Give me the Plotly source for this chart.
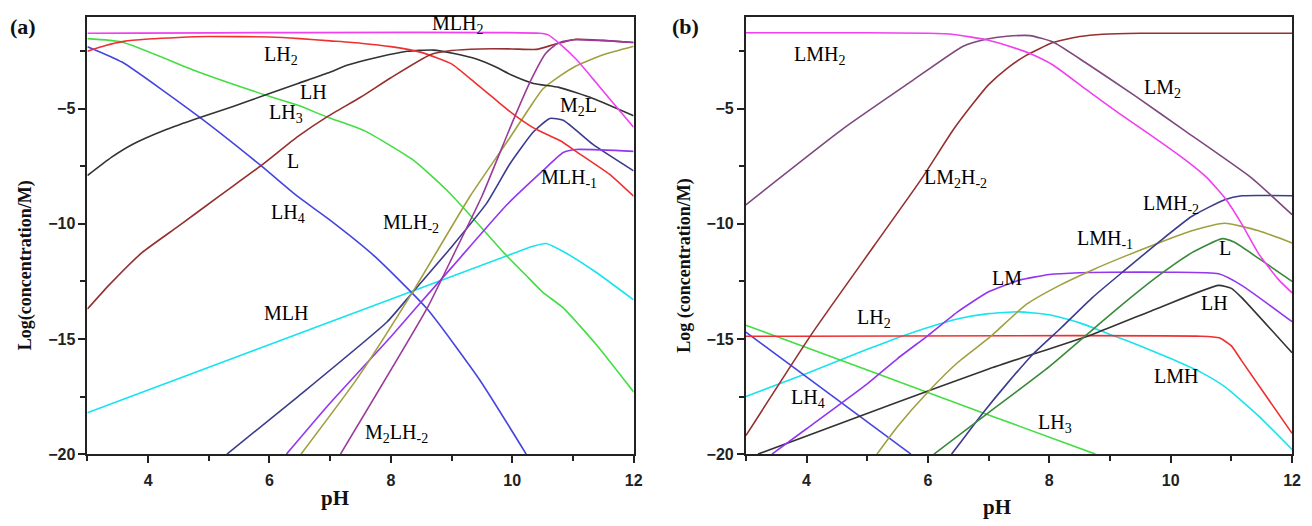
import plotly.graph_objects as go

# ---------------- Panel (a) data ----------------
a_MLH2_x = [3, 10.45, 10.6, 10.77, 11.05, 11.33, 11.6, 12]
a_MLH2_y = [-1.72, -1.72, -1.8, -2.15, -2.84, -3.7, -4.55, -5.8]

a_LH2_x = [3, 3.3, 3.6, 4, 4.5, 5, 6, 6.5, 7, 7.5, 8, 8.5, 9, 9.4, 9.7, 10, 10.35, 10.6, 10.8, 11.05, 11.6, 12]
a_LH2_y = [-2.5, -2.25, -2.07, -1.97, -1.9, -1.86, -1.88, -1.95, -2.05, -2.15, -2.3, -2.55, -3.05, -3.9, -4.55, -5.2, -5.83, -6.15, -6.4, -6.85, -7.84, -8.8]

a_LH3_x = [3, 3.57, 4.83, 5.93, 6.47, 6.96, 7.57, 8.38, 8.92, 9.47, 9.86, 10.23, 10.5, 10.84, 11.38, 12]
a_LH3_y = [-1.95, -2.1, -3.4, -4.4, -4.85, -5.37, -5.96, -7.25, -8.53, -10.1, -11.25, -12.24, -12.96, -13.65, -15.23, -17.3]

a_LH4_x = [3, 3.57, 4.83, 5.86, 6.47, 6.96, 7.73, 8.6, 9.47, 10.23]
a_LH4_y = [-2.3, -2.97, -5.33, -7.47, -8.82, -9.76, -11.4, -13.7, -16.8, -20]

a_LH_x = [3, 3.4, 3.74, 4.3, 4.83, 5.4, 5.93, 6.47, 6.96, 7.29, 7.8, 8.27, 8.7, 9.04, 9.41, 9.74, 9.96, 10.35, 10.77, 11.33, 12]
a_LH_y = [-7.9, -7.1, -6.55, -5.9, -5.4, -4.9, -4.4, -3.9, -3.45, -3.1, -2.75, -2.5, -2.45, -2.6, -2.84, -3.2, -3.5, -3.9, -4.07, -4.55, -5.3]

a_L_x = [3, 3.36, 3.9, 4.5, 5.2, 5.86, 6.47, 6.96, 7.5, 8.0, 8.65, 9.0, 9.47, 10.0, 10.4, 10.7, 11.05, 11.5, 12]
a_L_y = [-13.7, -12.65, -11.25, -10.1, -8.74, -7.47, -6.2, -5.33, -4.5, -3.65, -2.65, -2.47, -2.4, -2.4, -2.42, -2.2, -1.98, -2.03, -2.12]

a_MLH_x = [3, 10.0, 10.3, 10.56, 10.84, 11.38, 12]
a_MLH_y = [-18.2, -11.3, -11.0, -10.85, -11.2, -12.1, -13.3]

a_M2L_x = [5.3, 6.47, 7.94, 8.35, 9.0, 9.58, 9.96, 10.35, 10.62, 10.84, 11.33, 12]
a_M2L_y = [-20, -17.5, -14.25, -13.0, -11.0, -9.1, -7.4, -6.0, -5.42, -5.5, -6.55, -7.7]

a_MLHm1_x = [6.28, 6.96, 8.0, 8.43, 9.0, 9.9, 10.5, 10.84, 11.05, 12]
a_MLHm1_y = [-20, -17.9, -14.9, -13.6, -11.9, -9.2, -7.7, -6.9, -6.77, -6.85]

a_MLHm2_x = [6.52, 7.45, 8.35, 9.3, 9.96, 10.3, 10.5, 10.8, 11.05, 11.5, 12]
a_MLHm2_y = [-20, -16.7, -13.0, -8.82, -6.26, -4.9, -4.15, -3.55, -3.14, -2.65, -2.28]

a_M2LHm2_x = [7.17, 8.6, 9.04, 9.5, 10.0, 10.3, 10.55, 10.75, 11.0, 12]
a_M2LHm2_y = [-20, -13.65, -11.3, -8.8, -5.6, -3.8, -2.6, -2.15, -2.0, -2.12]

# ---------------- Panel (b) data ----------------
b_LMH2_x = [3, 5, 6, 6.42, 6.96, 7.3, 7.68, 8.06, 8.6, 9.15, 9.7, 10.23, 10.6, 10.9, 11.17, 11.45, 11.77, 12]
b_LMH2_y = [-1.7, -1.7, -1.72, -1.77, -2.0, -2.25, -2.6, -3.1, -4.15, -5.2, -6.2, -7.2, -8.0, -8.9, -10.0, -11.3, -12.4, -13.0]

b_LM2_x = [3, 4.62, 5.72, 6.58, 6.96, 7.3, 7.68, 8.06, 8.6, 9.42, 10.23, 11.33, 12]
b_LM2_y = [-9.17, -5.83, -3.82, -2.28, -1.98, -1.85, -1.82, -2.1, -3.0, -4.45, -5.95, -8.0, -9.6]

b_LM2Hm2_x = [3, 4.08, 5.11, 5.88, 6.42, 6.75, 7.0, 7.3, 7.62, 8.06, 8.5, 8.88, 9.5, 12]
b_LM2Hm2_y = [-19.2, -14.8, -10.96, -8.1, -5.9, -4.75, -3.95, -3.25, -2.68, -2.12, -1.86, -1.76, -1.72, -1.72]

b_LH2_x = [3, 10.5, 10.8, 11.0, 11.17, 12]
b_LH2_y = [-14.88, -14.88, -14.95, -15.3, -15.95, -19.1]

b_LMH_x = [3, 4, 5, 5.5, 6, 6.5, 7, 7.5, 8.0, 8.5, 9.0, 9.5, 10.0, 10.5, 10.89, 11.45, 12]
b_LMH_y = [-17.5, -16.5, -15.45, -14.95, -14.5, -14.12, -13.9, -13.82, -13.95, -14.3, -14.8, -15.3, -15.85, -16.45, -17.07, -18.35, -19.8]

b_LH3_x = [3, 5, 7, 8.76]
b_LH3_y = [-14.4, -16.35, -18.3, -20]

b_LH4_x = [3, 5.72]
b_LH4_y = [-14.7, -20]

b_LM_x = [3.43, 4, 5, 5.5, 6, 6.5, 7, 7.5, 8, 8.5, 9, 10, 10.79, 11.17, 12]
b_LM_y = [-20, -18.9, -16.95, -15.85, -14.85, -13.8, -12.95, -12.45, -12.2, -12.12, -12.1, -12.1, -12.17, -12.67, -14.25]

b_LMHm1_x = [5.16, 5.5, 6, 6.5, 7.03, 7.62, 8.17, 8.71, 9.25, 9.8, 10.35, 10.89, 11.45, 12]
b_LMHm1_y = [-20, -18.8, -17.3, -16.0, -14.9, -13.5, -12.67, -12.0, -11.4, -10.83, -10.3, -9.97, -10.3, -10.83]

b_LMHm2_x = [6.39, 6.91, 7.3, 7.73, 8.2, 8.71, 9.25, 9.8, 10.35, 10.89, 11.17, 12]
b_LMHm2_y = [-20, -18.2, -16.95, -15.66, -14.5, -13.2, -12.0, -10.8, -9.67, -8.95, -8.78, -8.78]

b_L_x = [6.1, 7.0, 8.0, 8.71, 9.25, 9.8, 10.35, 10.85, 11.05, 11.45, 12]
b_L_y = [-20, -18.2, -16.2, -14.6, -13.4, -12.25, -11.25, -10.64, -10.8, -11.5, -12.5]

b_LH_x = [3.2, 5.44, 7, 8.71, 9.8, 10.79, 11.0, 11.17, 12]
b_LH_y = [-20, -17.8, -16.3, -14.8, -13.65, -12.67, -12.8, -13.2, -15.6]

# ---------------- labels ----------------
a_labels = ["MLH<sub>2</sub>", "LH<sub>2</sub>", "LH", "LH<sub>3</sub>", "L", "LH<sub>4</sub>",
            "MLH<sub>-2</sub>", "MLH", "M<sub>2</sub>L", "MLH<sub>-1</sub>", "M<sub>2</sub>LH<sub>-2</sub>"]
a_label_x = [9.09, 6.19, 6.73, 6.27, 6.39, 6.3, 8.34, 6.27, 11.09, 10.94, 8.1]
a_label_y = [-1.34, -2.7, -4.25, -5.2, -7.25, -9.55, -9.97, -13.86, -4.9, -8.05, -19.1]

b_labels = ["LMH<sub>2</sub>", "LM<sub>2</sub>", "LM<sub>2</sub>H<sub>-2</sub>", "LMH<sub>-2</sub>", "LMH<sub>-1</sub>",
            "L", "LM", "LH<sub>2</sub>", "LH<sub>4</sub>", "LH", "LMH", "LH<sub>3</sub>"]
b_label_x = [4.21, 9.87, 6.45, 10.0, 8.91, 10.89, 7.3, 5.11, 4.02, 10.73, 10.09, 8.1]
b_label_y = [-2.7, -4.12, -8.05, -9.17, -10.67, -11.05, -12.35, -14.1, -17.6, -13.45, -16.6, -18.65]

x_ticks = [4, 6, 8, 10, 12]
y_ticks = [-20, -15, -10, -5]

fig = go.Figure()

def add(x, y, color, ax):
    fig.add_trace(go.Scatter(x=x, y=y, mode="lines", xaxis="x" if ax == 1 else "x2",
                             yaxis="y" if ax == 1 else "y2",
                             line=dict(color=color, width=1.6, shape="spline", smoothing=0.5),
                             showlegend=False, hoverinfo="skip"))

# panel a
add(a_MLH_x, a_MLH_y, "#19E3EE", 1)
add(a_LH4_x, a_LH4_y, "#4545E0", 1)
add(a_LH3_x, a_LH3_y, "#44DD44", 1)
add(a_M2L_x, a_M2L_y, "#3C3C8E", 1)
add(a_MLHm1_x, a_MLHm1_y, "#9236F0", 1)
add(a_MLHm2_x, a_MLHm2_y, "#A0A040", 1)
add(a_LH_x, a_LH_y, "#333333", 1)
add(a_LH2_x, a_LH2_y, "#F03030", 1)
add(a_L_x, a_L_y, "#963030", 1)
add(a_M2LHm2_x, a_M2LHm2_y, "#9A3A9A", 1)
add(a_MLH2_x, a_MLH2_y, "#F040F0", 1)

# panel b
add(b_LMH_x, b_LMH_y, "#19E3EE", 2)
add(b_LH3_x, b_LH3_y, "#44DD44", 2)
add(b_LH4_x, b_LH4_y, "#4545E0", 2)
add(b_LH2_x, b_LH2_y, "#F03030", 2)
add(b_LH_x, b_LH_y, "#333333", 2)
add(b_LM_x, b_LM_y, "#9236F0", 2)
add(b_LMHm1_x, b_LMHm1_y, "#A0A040", 2)
add(b_LMHm2_x, b_LMHm2_y, "#3C3C8E", 2)
add(b_L_x, b_L_y, "#3A8A3A", 2)
add(b_LM2Hm2_x, b_LM2Hm2_y, "#963030", 2)
add(b_LM2_x, b_LM2_y, "#7E4A7E", 2)
add(b_LMH2_x, b_LMH2_y, "#F040F0", 2)

W, H = 1312, 526
lab_font = dict(family="Liberation Serif", size=20, color="#000000")
annotations = []
for t, x, y in zip(a_labels, a_label_x, a_label_y):
    annotations.append(dict(text=t, x=x, y=y, xref="x", yref="y", showarrow=False, font=lab_font,
                            xanchor="center", yanchor="middle"))
for t, x, y in zip(b_labels, b_label_x, b_label_y):
    annotations.append(dict(text=t, x=x, y=y, xref="x2", yref="y2", showarrow=False, font=lab_font,
                            xanchor="center", yanchor="middle"))

def pann(text, px, py, angle=0, size=21):
    return dict(text=text, x=px / W, y=1 - py / H, xref="paper", yref="paper", textangle=angle,
                showarrow=False, xanchor="center", yanchor="middle",
                font=dict(family="Liberation Serif", size=size, color="#111111"))

annotations += [
    pann("<b>Log(concentration/M)</b>", 26, 270, -90, 18),
    pann("<b>Log (concentration/M)</b>", 689, 270, -90, 18),
    pann("<b>pH</b>", 337, 507),
    pann("<b>pH</b>", 1004, 516),
    pann("<b>(a)</b>", 23, 27, 0, 22),
    pann("<b>(b)</b>", 690, 27, 0, 22),
]

tick_font = dict(family="Liberation Sans", size=16, color="#222222", weight="bold")

def xax(domain):
    return dict(domain=domain, range=[3, 12], tickvals=x_ticks, ticks="outside", ticklen=7,
                tickwidth=1.6, tickcolor="#222", showline=True, linecolor="#222", linewidth=1.8,
                mirror=True, showgrid=False, zeroline=False, tickfont=tick_font, fixedrange=True,
                ticklabelstandoff=4,
                minor=dict(dtick=1, tick0=3, ticks="outside", ticklen=5, tickwidth=1.6, tickcolor="#222"))

def yax(anchor):
    return dict(domain=[1 - 462 / H, 1 - 17 / H], range=[-20, -1], tickvals=y_ticks, ticks="outside",
                ticklen=7, tickwidth=1.6, tickcolor="#222", showline=True, linecolor="#222", linewidth=1.8,
                mirror=True, showgrid=False, zeroline=False, tickfont=tick_font, anchor=anchor,
                minor=dict(dtick=2.5, tick0=0, ticks="outside", ticklen=5, tickwidth=1.6, tickcolor="#222"))

fig.update_layout(
    width=W, height=H, margin=dict(l=0, r=0, t=0, b=0),
    paper_bgcolor="white", plot_bgcolor="white",
    xaxis=dict(xax([88 / W, 638 / W]), anchor="y"),
    yaxis=yax("x"),
    xaxis2=dict(xax([751 / W, 1301 / W]), anchor="y2"),
    yaxis2=yax("x2"),
    annotations=annotations,
)

fig.write_html("out.html")
